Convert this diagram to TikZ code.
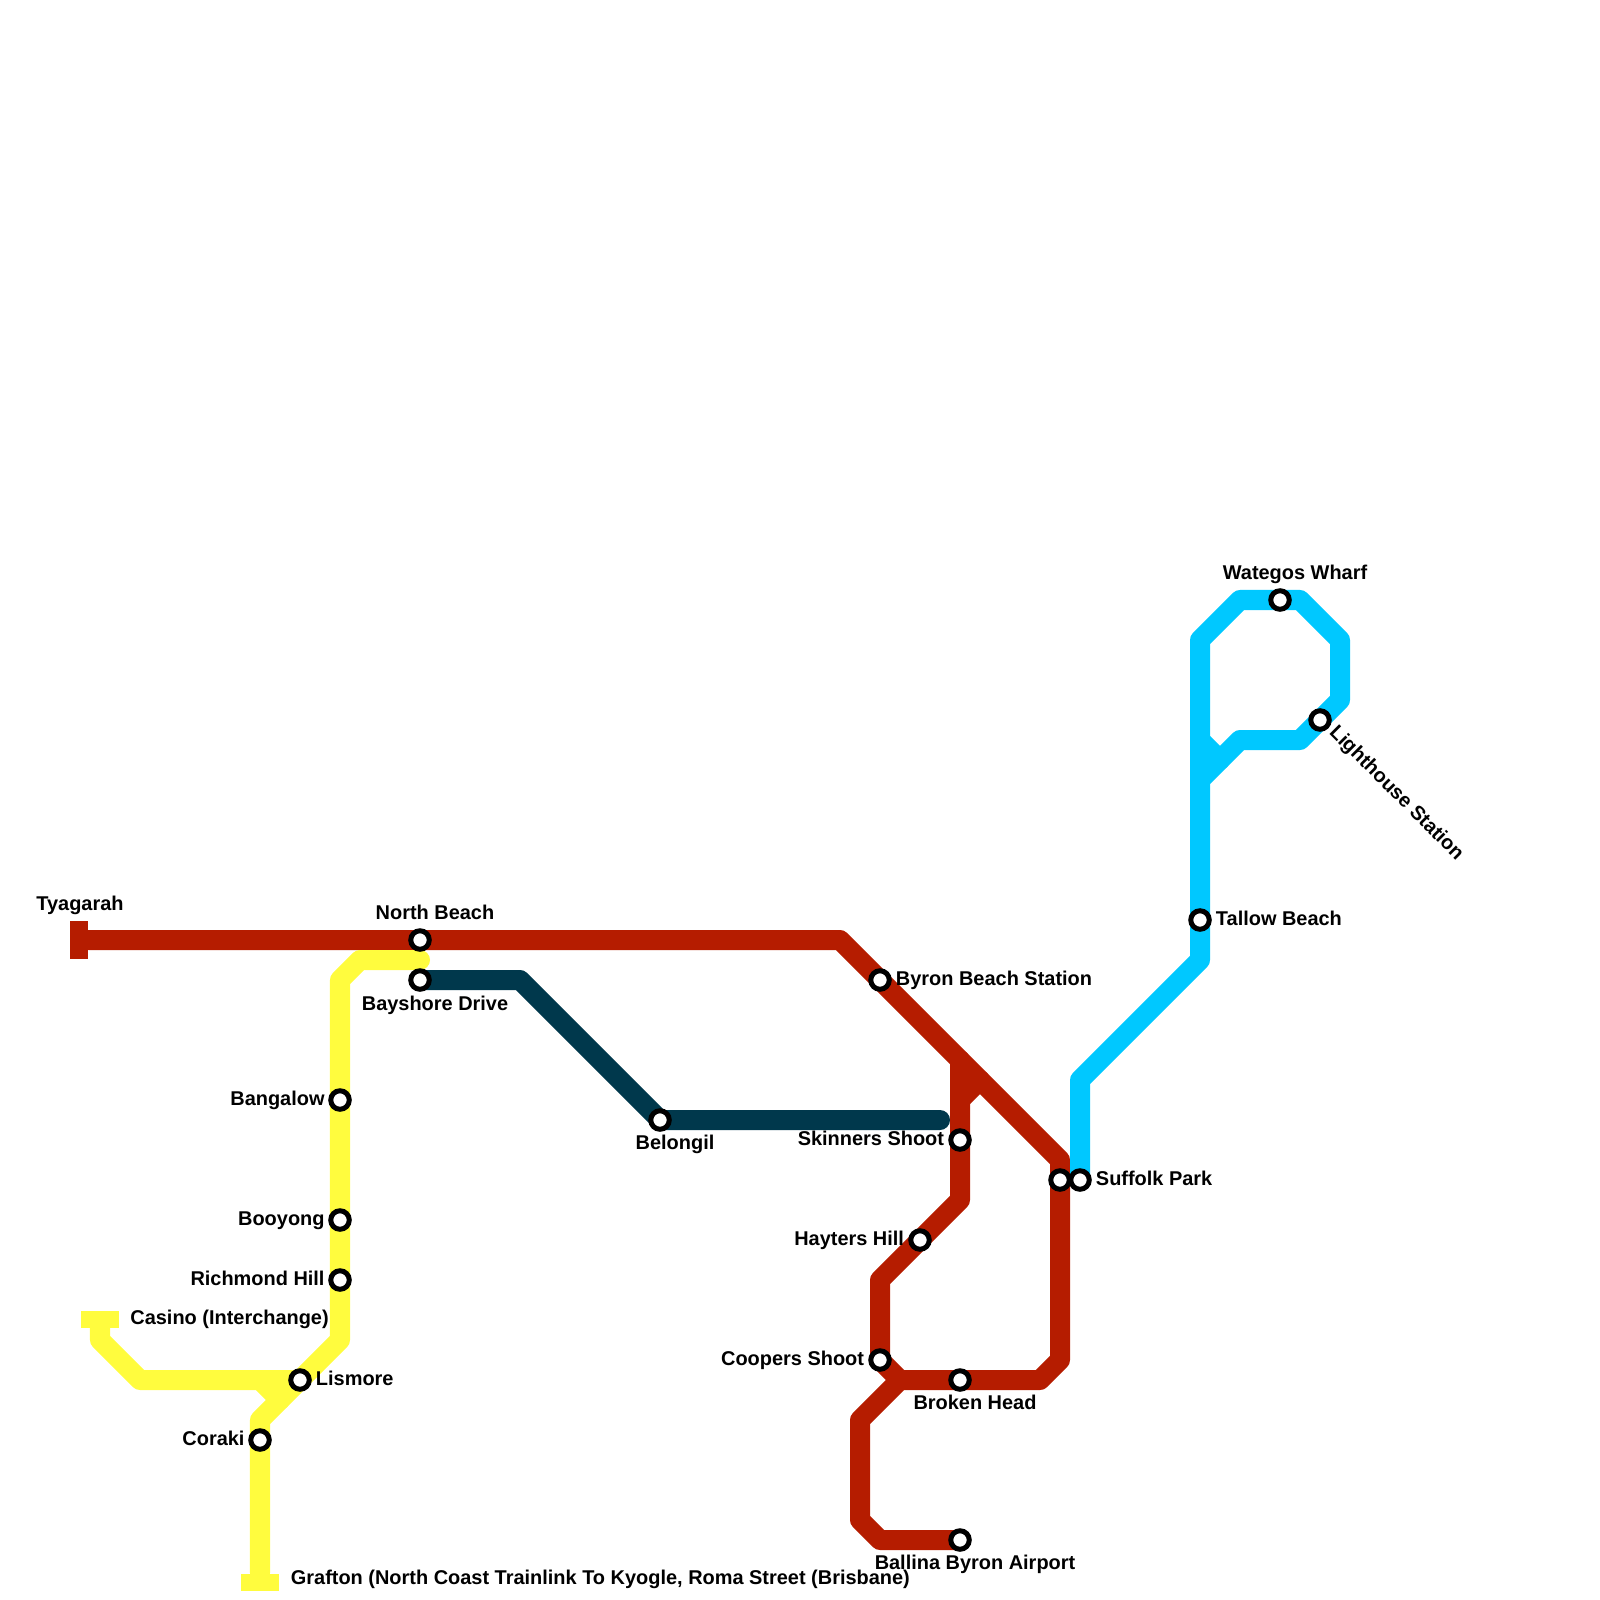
\documentclass[tikz,border=0pt]{standalone}
\usepackage{fontspec}
\setmainfont{Liberation Sans}
\usetikzlibrary{positioning, calc, backgrounds}
\definecolor{linered}{RGB}{181, 28, 0}
\definecolor{linedark}{RGB}{0, 56, 76}
\definecolor{lineyellow}{RGB}{255, 252, 62}
\definecolor{lineblue}{RGB}{0, 200, 255}

\begin{document}
\begin{tikzpicture}[
    x=0.01cm, y=-0.01cm,
    stn/.style={circle, draw=black, fill=white, line width=0.05cm, minimum size=0.185cm, inner sep=0pt},
    lbl/.style={font=\fontsize{5.67}{6.8}\selectfont\bfseries, inner sep=0pt, text height=0.14cm, text depth=0.03cm},
    route/.style={line width=0.2cm, line cap=round, line join=round},
    vbar/.style={rectangle, fill=#1, minimum width=0.175cm, minimum height=0.375cm, inner sep=0pt},
    hbar/.style={rectangle, fill=#1, minimum width=0.37cm, minimum height=0.17cm, inner sep=0pt}
  ]
  \useasboundingbox (0,0) rectangle (1600,1600);

  % Stations
  \node[stn] (nbeach) at (420,940) {};
  \node[stn] (bayshore) at (420,980) {};
  \node[stn] (bangalow) at (340,1100) {};
  \node[stn] (booyong) at (340,1220) {};
  \node[stn] (richmond) at (340,1280) {};
  \node[stn] (lismore) at (300,1380) {};
  \node[stn] (coraki) at (260,1440) {};
  \node[stn] (belongil) at (660,1120) {};
  \node[stn] (byron) at (880,980) {};
  \node[stn] (skinners) at (960,1140) {};
  \node[stn] (hayters) at (920,1240) {};
  \node[stn] (coopers) at (880,1360) {};
  \node[stn] (broken) at (960,1380) {};
  \node[stn] (ballina) at (960,1540) {};
  \node[stn] (redend) at (1060,1180) {};
  \node[stn] (suffolk) at (1080,1180) {};
  \node[stn] (tallow) at (1200,920) {};
  \node[stn] (wategos) at (1280,600) {};
  \node[stn] (lighthouse) at (1320,720) {};

  % Terminal bars
  \node[vbar=linered] (tyagarah) at (79,940) {};
  \node[hbar=lineyellow] (casino) at (100,1319) {};
  \node[hbar=lineyellow] (grafton) at (260,1582) {};

  % Bends
  \coordinate (ra) at (840,940);
  \coordinate (rb) at (1060,1160);
  \coordinate (rc) at (1060,1360);
  \coordinate (rd) at (1040,1380);
  \coordinate (re) at (900,1380);
  \coordinate (rf) at (860,1420);
  \coordinate (rg) at (860,1520);
  \coordinate (rh) at (880,1540);
  \coordinate (ri) at (960,1060);
  \coordinate (rj) at (960,1200);
  \coordinate (rk) at (880,1280);
  \coordinate (rl) at (980,1080);
  \coordinate (rm) at (960,1100);
  \coordinate (da) at (520,980);
  \coordinate (db) at (940,1120);
  \coordinate (ya) at (360,960);
  \coordinate (yb) at (340,980);
  \coordinate (yc) at (340,1340);
  \coordinate (yd) at (260,1420);
  \coordinate (ye) at (420,960);
  \coordinate (yf) at (100,1340);
  \coordinate (yg) at (140,1380);
  \coordinate (yh) at (260,1380);
  \coordinate (yi) at (280,1400);
  \coordinate (ba) at (1080,1080);
  \coordinate (bb) at (1200,960);
  \coordinate (bc) at (1200,640);
  \coordinate (bd) at (1240,600);
  \coordinate (be) at (1300,600);
  \coordinate (bf) at (1340,640);
  \coordinate (bg) at (1340,700);
  \coordinate (bh) at (1300,740);
  \coordinate (bi) at (1240,740);
  \coordinate (bj) at (1200,780);
  \coordinate (bk) at (1200,740);
  \coordinate (bl) at (1220,760);

  % Lines
  \begin{scope}[on background layer]
    \draw[route, linered] (tyagarah.east) -- (ra) -- (rb) -- (rc) -- (rd) -- (re) -- (rf) -- (rg) -- (rh) -- (ballina.center);
    \draw[route, linered] (ri) -- (rj) -- (rk) -- (coopers.center) -- (re);
    \draw[route, linered] (rl) -- (rm);
    \draw[route, linedark] (bayshore.center) -- (da) -- (belongil.center) -- (db);
    \draw[route, lineyellow] (ye) -- (ya) -- (yb) -- (yc) -- (yd) -- (grafton.north);
    \draw[route, lineyellow] (casino.south) -- (yf) -- (yg) -- (lismore.center);
    \draw[route, lineyellow] (yh) -- (yi);
    \draw[route, lineblue] (suffolk.center) -- (ba) -- (bb) -- (bc) -- (bd) -- (be) -- (bf) -- (bg) -- (bh) -- (bi) -- (bj);
    \draw[route, lineblue] (bk) -- (bl);
  \end{scope}

  % Labels
  \node[lbl, above=0.06cm of tyagarah, xshift=0.01cm] (ltyagarah) {Tyagarah};
  \node[lbl, above=0.055cm of nbeach, xshift=0.15cm] (lnbeach) {North Beach};
  \node[lbl, below=0.045cm of bayshore, xshift=0.15cm] (lbayshore) {Bayshore Drive};
  \node[lbl, left=0.03cm of bangalow] (lbangalow) {Bangalow};
  \node[lbl, left=0.03cm of booyong] (lbooyong) {Booyong};
  \node[lbl, left=0.03cm of richmond] (lrichmond) {Richmond Hill};
  \node[lbl, right=0.105cm of casino] (lcasino) {Casino (Interchange)};
  \node[lbl, right=0.035cm of lismore] (llismore) {Lismore};
  \node[lbl, left=0.03cm of coraki] (lcoraki) {Coraki};
  \node[lbl, right=0.11cm of grafton, yshift=0.03cm] (lgrafton) {Grafton (North Coast Trainlink To Kyogle, Roma Street (Brisbane)};
  \node[lbl, below=0.035cm of belongil, xshift=0.15cm] (lbelongil) {Belongil};
  \node[lbl, right=0.035cm of byron] (lbyron) {Byron Beach Station};
  \node[lbl, left=0.035cm of skinners] (lskinners) {Skinners Shoot};
  \node[lbl, left=0.035cm of hayters] (lhayters) {Hayters Hill};
  \node[lbl, left=0.035cm of coopers] (lcoopers) {Coopers Shoot};
  \node[lbl, below=0.035cm of broken, xshift=0.15cm] (lbroken) {Broken Head};
  \node[lbl, below=0.035cm of ballina, xshift=0.15cm] (lballina) {Ballina Byron Airport};
  \node[lbl, right=0.035cm of suffolk] (lsuffolk) {Suffolk Park};
  \node[lbl, right=0.035cm of tallow] (ltallow) {Tallow Beach};
  \node[lbl, above=0.055cm of wategos, xshift=0.15cm] (lwategos) {Wategos Wharf};
  \node[lbl, rotate=-45, anchor=west] (llighthouse) at ($(lighthouse)+(12,9)$) {Lighthouse Station};
\end{tikzpicture}
\end{document}
